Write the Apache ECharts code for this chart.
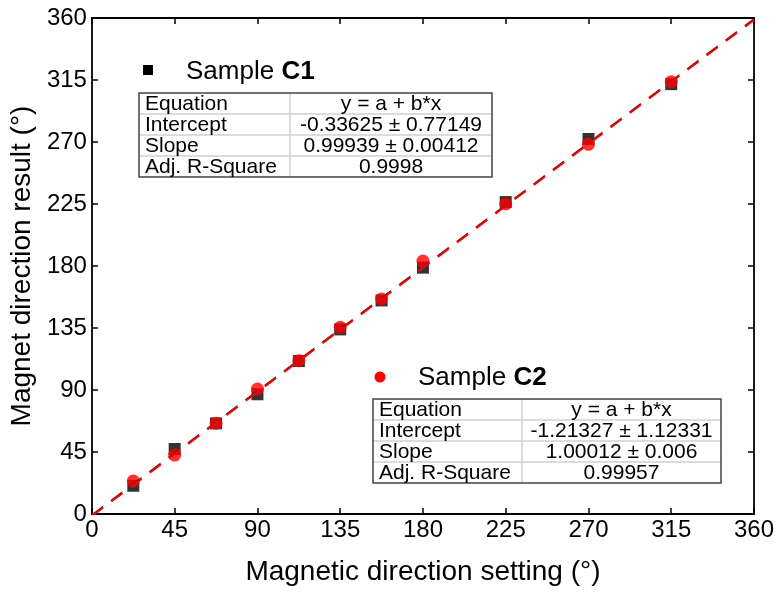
<!DOCTYPE html>
<html>
<head>
<meta charset="utf-8">
<script src="https://cdn.jsdelivr.net/npm/echarts@6/dist/echarts.min.js"></script>
<style>
  html, body { margin: 0; padding: 0; background: #fff; }
  #chart { width: 777px; height: 593px; }
</style>
</head>
<body>
<div id="chart"></div>
<script>
const settings = [22.5, 45, 67.5, 90, 112.5, 135, 157.5, 180, 225, 270, 315];
const sampleC1 = [20.5, 47.2, 65.8, 86.9, 111, 134, 155, 178.8, 226.4, 272.2, 312];
const sampleC2 = [24, 42.8, 65.8, 90.7, 111.3, 135.5, 156, 183.6, 225, 268.3, 313.8];
const axisTicks = [0, 45, 90, 135, 180, 225, 270, 315, 360];

// linear fits: [intercept, slope]
const fitC1 = [-0.33625, 0.99939];
const fitC2 = [-1.21327, 1.00012];

const tableKeys = ["Equation", "Intercept", "Slope", "Adj. R-Square"];
const tableC1 = ["y = a + b*x", "-0.33625 \u00b1 0.77149", "0.99939 \u00b1 0.00412", "0.9998"];
const tableC2 = ["y = a + b*x", "-1.21327 \u00b1 1.12331", "1.00012 \u00b1 0.006", "0.99957"];

const FONT = "Liberation Sans, Arial, sans-serif";

function fitLine(fit) {
  const lo = axisTicks[0];
  const hi = axisTicks[axisTicks.length - 1];
  return [[lo, fit[0] + fit[1] * lo], [hi, fit[0] + fit[1] * hi]];
}

function buildTable(left, top, width, splitAt, rowH, values) {
  const els = [];
  const height = rowH * tableKeys.length;
  for (let i = 1; i < tableKeys.length; i++) {
    els.push({ type: "line", shape: { x1: left, y1: top + rowH * i, x2: left + width, y2: top + rowH * i },
      style: { stroke: "#d0d0d0", lineWidth: 1.5 } });
  }
  els.push({ type: "line", shape: { x1: splitAt, y1: top, x2: splitAt, y2: top + height },
    style: { stroke: "#d0d0d0", lineWidth: 1.5 } });
  els.push({ type: "rect", shape: { x: left, y: top, width, height },
    style: { fill: null, stroke: "#444", lineWidth: 1.5 } });
  tableKeys.forEach((key, i) => {
    els.push({ type: "text", x: left + 6, y: top + rowH * i + rowH / 2 + 1,
      style: { text: key, font: `21px ${FONT}`, fill: "#000", align: "left", verticalAlign: "middle" } });
    els.push({ type: "text", x: (splitAt + left + width) / 2, y: top + rowH * i + rowH / 2 + 1,
      style: { text: values[i], font: `21px ${FONT}`, fill: "#000", align: "center", verticalAlign: "middle" } });
  });
  return els;
}

function sampleLabel(x, y, name) {
  return { type: "text", x, y, style: {
    text: `{n|Sample }{b|${name}}`, verticalAlign: "middle",
    rich: {
      n: { font: `26px ${FONT}`, fill: "#000" },
      b: { font: `bold 26px ${FONT}`, fill: "#000" }
    }
  } };
}

const chart = echarts.init(document.getElementById("chart"));

const axisCommon = {
  type: "value", min: 0, max: 360, interval: 45,
  splitLine: { show: false },
  axisLine: { show: true, onZero: false, lineStyle: { color: "#000", width: 1.8 } },
  axisTick: { show: true, inside: true, length: 6, lineStyle: { color: "#000", width: 1.5 } }
};

chart.setOption({
  animation: false,
  grid: { left: 91, right: 20, top: 18, bottom: 79 },
  xAxis: [
    Object.assign({}, axisCommon, {
      position: "bottom",
      name: "Magnetic direction setting (\u00b0)", nameLocation: "middle", nameGap: 44,
      nameTextStyle: { fontFamily: FONT, fontSize: 28, color: "#000" },
      axisLabel: { fontFamily: FONT, fontSize: 24, color: "#000", margin: 4 }
    }),
    Object.assign({}, axisCommon, { position: "top", axisLabel: { show: false } })
  ],
  yAxis: [
    Object.assign({}, axisCommon, {
      position: "left",
      name: "Magnet direction result (\u00b0)", nameLocation: "middle", nameGap: 50,
      nameTextStyle: { fontFamily: FONT, fontSize: 28, color: "#000" },
      axisLabel: { fontFamily: FONT, fontSize: 24, color: "#000", margin: 5 }
    }),
    Object.assign({}, axisCommon, { position: "right", axisLabel: { show: false } })
  ],
  series: [
    { name: "C1", type: "scatter", symbol: "rect", symbolSize: 12, z: 2,
      itemStyle: { color: "#000" }, data: settings.map((x, i) => [x, sampleC1[i]]) },
    { name: "C2", type: "scatter", symbol: "circle", symbolSize: 13, z: 3,
      itemStyle: { color: "#ff0000" }, data: settings.map((x, i) => [x, sampleC2[i]]) },
    { name: "Fit C2", type: "line", showSymbol: false, z: 4, silent: true,
      lineStyle: { color: "#ff0000", width: 2.6, type: [14, 10] }, data: fitLine(fitC2) },
    { name: "Fit C1", type: "line", showSymbol: false, z: 5, silent: true,
      lineStyle: { color: "#333", width: 0.8, type: [14, 10] }, data: fitLine(fitC1) }
  ],
  graphic: [
    { type: "rect", shape: { x: 143, y: 65, width: 10, height: 10 }, style: { fill: "#000" } },
    sampleLabel(186, 72, "C1"),
    ...buildTable(139, 93, 353, 290, 21, tableC1),
    { type: "circle", shape: { cx: 380, cy: 377, r: 5.5 }, style: { fill: "#ff0000" } },
    sampleLabel(418, 378, "C2"),
    ...buildTable(373, 399, 348, 522, 21, tableC2)
  ]
});
</script>
</body>
</html>
